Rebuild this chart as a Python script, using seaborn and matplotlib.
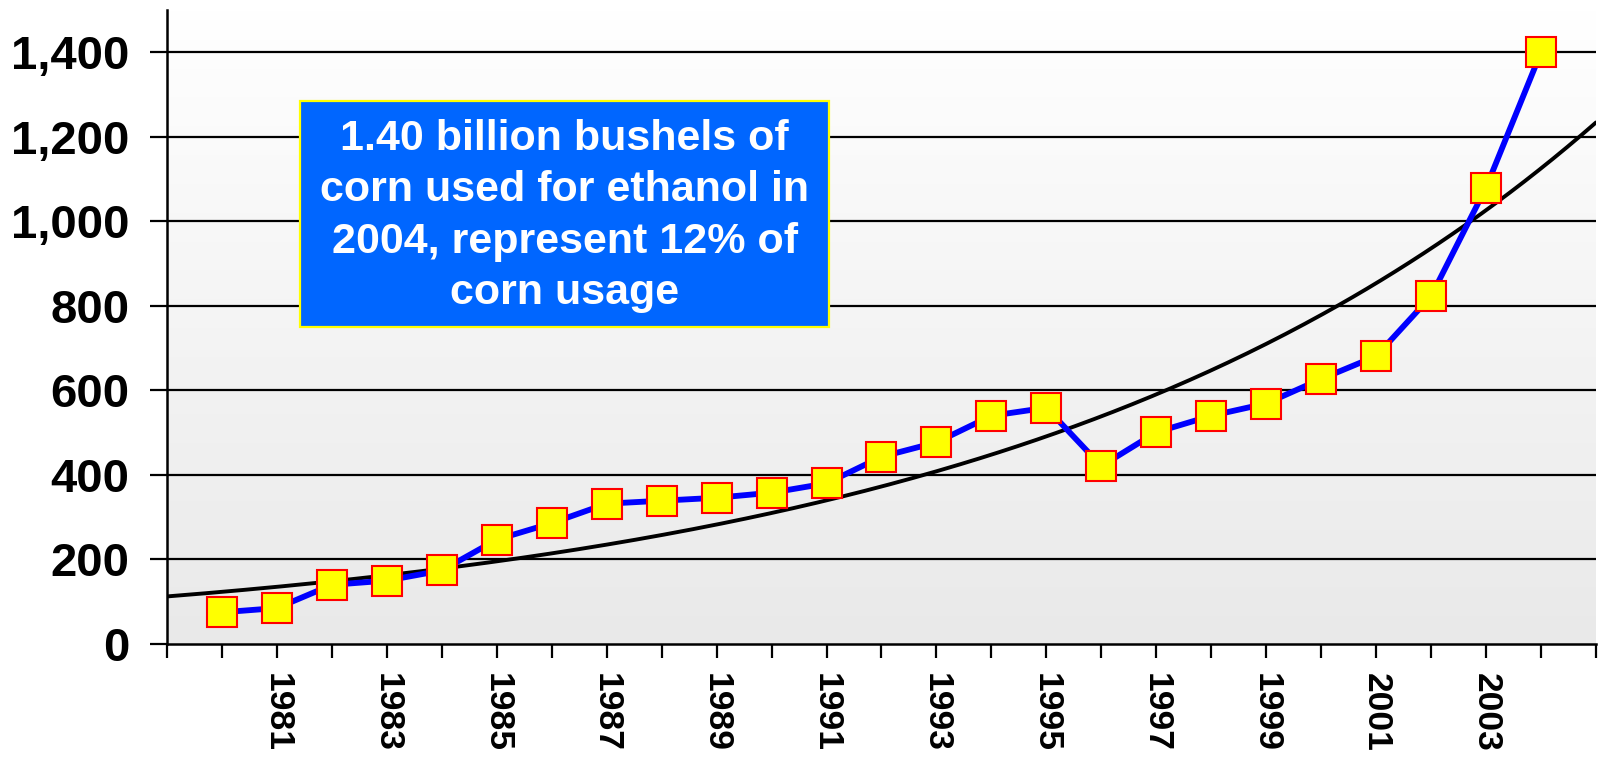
import numpy as np
import pandas as pd
import matplotlib
matplotlib.use("Agg")
import matplotlib.pyplot as plt
import matplotlib.transforms as mtransforms
import seaborn as sns
from matplotlib.patches import Rectangle

years = list(range(1980, 2005))
corn_ethanol = [75, 85, 140, 150, 174, 247, 286, 332, 339, 346, 358, 380, 443,
                477, 540, 559, 421, 501, 540, 569, 627, 681, 823, 1080, 1400]
y_ticks = [0, 200, 400, 600, 800, 1000, 1200, 1400]
y_tick_labels = ["0", "200", "400", "600", "800", "1,000", "1,200", "1,400"]
x_label_years = [1981, 1983, 1985, 1987, 1989, 1991, 1993, 1995, 1997, 1999, 2001, 2003]
note = "1.40 billion bushels of\ncorn used for ethanol in\n2004, represent 12% of\ncorn usage"

sns.set_style("white")
plt.rcParams['font.family'] = ['Liberation Sans', 'DejaVu Sans']
plt.rcParams['font.weight'] = 'bold'
plt.rcParams['text.color'] = 'black'
plt.rcParams['xtick.color'] = 'black'
plt.rcParams['ytick.color'] = 'black'

df = pd.DataFrame({"idx": np.arange(len(years)), "year": years, "value": corn_ethanol})

fig = plt.figure(figsize=(16.03, 7.61), dpi=100)
ax = fig.add_axes([0.10418, 0.15375, 0.99563 - 0.10418, 0.98686 - 0.15375])

# gradient background
grad = np.linspace(1.0, 0.0, 256).reshape(-1, 1)
top = np.array([1.0, 1.0, 1.0])
bot = np.array([0.914, 0.914, 0.914])
img = top[None, None, :] * grad[..., None] + bot[None, None, :] * (1 - grad[..., None])
ax.imshow(img, extent=[-1, 25, 0, 1500], aspect='auto', origin='upper', zorder=0)

# gridlines
for t in y_ticks[1:]:
    ax.axhline(t, color='black', lw=1.6, zorder=1)

# exponential trend fitted to the data
b, a = np.polyfit(df["idx"], np.log(df["value"]), 1)
xt = np.linspace(-1, 25, 300)
trend = pd.DataFrame({"x": xt, "y": np.exp(a + b * xt)})
sns.lineplot(data=trend, x="x", y="y", ax=ax, color='black', lw=2.8, zorder=3)

sns.lineplot(data=df, x="idx", y="value", ax=ax, color='#0000FF', lw=4.2,
             marker='s', markersize=21.5, markerfacecolor='#FFFF00',
             markeredgecolor='#FF0000', markeredgewidth=1.5, zorder=4)

ax.set_xlim(-1, 25)
ax.set_ylim(0, 1500)
ax.set_xlabel("")
ax.set_ylabel("")

ax.set_yticks(y_ticks)
ax.set_yticklabels(y_tick_labels, fontsize=34, fontweight='bold', color='black')

xt_pos = list(range(-1, 26))
xt_labels = []
for p in xt_pos:
    yr = 1980 + p
    xt_labels.append(str(yr) if yr in x_label_years else "")
ax.set_xticks(xt_pos)
ax.set_xticklabels(xt_labels, rotation=-90, fontsize=25.5, fontweight='bold', va='top', color='black')
shift = mtransforms.ScaledTranslation(-6 / 100, 0, fig.dpi_scale_trans)
for lab in ax.get_xticklabels():
    lab.set_transform(lab.get_transform() + shift)

ax.tick_params(axis='y', direction='out', length=12, width=1.6, color='black', pad=15, left=True)
ax.tick_params(axis='x', direction='out', length=10, width=1.6, color='black', pad=11, bottom=True)

for s in ['top', 'right']:
    ax.spines[s].set_visible(False)
for s in ['left', 'bottom']:
    ax.spines[s].set_color('black')
    ax.spines[s].set_linewidth(1.8)
    ax.spines[s].set_zorder(5)

# annotation box
bx0, bx1 = 300 / 1603, 829 / 1603
by0, by1 = 1 - 327 / 761, 1 - 101 / 761
fig.patches.append(Rectangle((bx0, by0), bx1 - bx0, by1 - by0, transform=fig.transFigure,
                             facecolor='#0066FF', edgecolor='#FFFF00', lw=1.6, zorder=10))
fig.text((bx0 + bx1) / 2, 1 - 216 / 761, note, ha='center', va='center', color='white',
         fontsize=31, fontweight='bold', linespacing=1.36, zorder=11)

fig.savefig("out.png", dpi=100)
